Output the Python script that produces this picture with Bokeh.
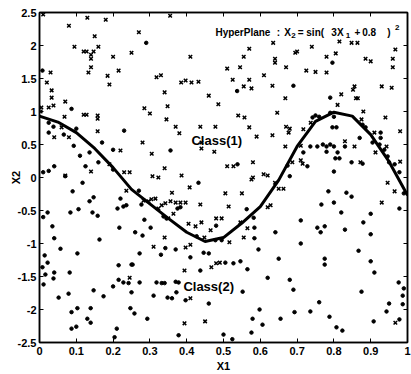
from bokeh.plotting import figure
from bokeh.models import FixedTicker, LinearAxis, Label
from bokeh.embed import file_html
from bokeh.resources import INLINE

# ---------------- data ----------------
curve_x = [0.0, 0.05, 0.1, 0.15, 0.2, 0.25, 0.3, 0.35, 0.4, 0.45, 0.5,
           0.55, 0.6, 0.65, 0.7, 0.75, 0.8, 0.85, 0.9, 0.95, 1.0]
curve_y = [0.93, 0.84, 0.68, 0.44, 0.15, -0.18, -0.40, -0.62, -0.83, -0.97, -0.91,
           -0.69, -0.44, -0.04, 0.47, 0.85, 0.99, 0.93, 0.65, 0.24, -0.27]

class1 = [  # "x" markers
    (0.01, 2.47), (0.13, 2.42), (0.08, 2.30), (0.18, 2.39), (0.15, 2.14), (0.095, 1.98),
    (0.12, 1.91), (0.128, 1.91), (0.147, 1.91), (0.16, 1.98), (0.14, 1.86), (0.14, 1.80),
    (0.20, 1.83), (0.25, 1.89), (0.14, 1.67), (0.133, 1.59), (0.215, 1.62), (0.185, 1.54),
    (0.19, 1.41), (0.03, 1.59), (0.02, 1.44), (0.033, 1.32), (0.033, 1.21), (0.07, 1.15),
    (0.038, 1.09), (0.005, 1.06), (0.025, 1.06), (0.003, 1.0), (0.12, 0.95), (0.128, 0.95),
    (0.158, 0.94), (0.158, 0.89), (0.068, 0.92), (0.06, 0.76), (0.158, 0.70), (0.04, 0.61),
    (0.08, 0.61), (0.22, 0.41), (0.19, 0.2), (0.14, 0.09), (0.23, 0.08), (0.245, 0.08),
    (0.07, 0.03),
    (0.355, 2.45), (0.27, 2.2), (0.41, 1.83), (0.318, 1.52), (0.33, 1.55), (0.385, 1.44),
    (0.397, 1.47), (0.413, 1.44), (0.432, 1.45), (0.34, 1.29), (0.46, 1.24), (0.486, 1.11),
    (0.348, 1.08), (0.285, 1.05), (0.30, 0.97), (0.345, 0.88), (0.37, 0.77), (0.38, 0.67),
    (0.437, 0.77), (0.478, 0.77), (0.44, 0.53), (0.44, 0.44), (0.475, 0.39), (0.28, 0.53),
    (0.305, 0.36), (0.34, 0.14), (0.307, 0.02), (0.323, 0.0), (0.386, 0.03),
    (0.635, 2.04), (0.57, 1.95), (0.555, 1.83), (0.64, 1.8), (0.64, 1.74), (0.695, 1.89),
    (0.70, 1.91), (0.74, 1.98), (0.51, 1.65), (0.545, 1.67), (0.67, 1.67), (0.725, 1.62),
    (0.61, 1.55), (0.525, 1.48), (0.57, 1.48), (0.555, 1.38), (0.576, 1.35), (0.633, 1.39),
    (0.668, 1.2), (0.646, 0.98), (0.54, 0.94), (0.557, 0.91), (0.57, 0.76), (0.59, 0.62),
    (0.633, 0.64), (0.67, 0.77), (0.68, 0.74), (0.677, 0.68), (0.717, 0.73), (0.737, 0.83),
    (0.668, 0.47), (0.71, 0.48), (0.58, 0.23), (0.51, 0.17), (0.527, 0.17), (0.609, 0.05),
    (0.62, 0.03), (0.58, 0.0), (0.687, 0.23), (0.71, 0.26), (0.715, 0.21),
    (0.815, 2.06), (0.848, 2.04), (0.864, 2.04), (0.967, 1.94), (0.78, 1.83), (0.805, 1.88),
    (0.886, 1.8), (0.90, 1.76), (0.96, 1.8), (0.96, 1.67), (0.75, 1.6), (0.78, 1.59),
    (0.856, 1.38), (0.852, 1.33), (0.93, 1.38), (0.957, 1.36), (0.82, 1.26), (0.86, 1.2),
    (0.865, 1.2), (0.81, 1.1), (0.88, 1.0), (0.94, 0.91), (0.98, 0.7), (0.875, 0.88),
    (0.91, 0.68), (0.83, 0.55), (0.856, 0.47), (0.913, 0.38), (0.872, 0.23), (0.943, 0.47),
    (0.98, 0.24),
    (0.236, -0.2), (0.408, -0.15), (0.505, -0.24), (0.36, -0.23), (0.283, -0.35),
    (0.296, -0.36), (0.304, -0.33), (0.315, -0.32), (0.323, -0.47), (0.332, -0.42),
    (0.342, -0.39), (0.356, -0.36), (0.37, -0.38), (0.383, -0.38), (0.397, -0.38),
    (0.437, -0.41), (0.35, -0.62), (0.364, -0.55), (0.405, -0.7), (0.424, -0.74),
    (0.44, -0.68), (0.48, -0.62), (0.495, -0.62), (0.465, -0.8), (0.34, -0.91),
    (0.448, -0.91), (0.31, -1.05), (0.397, -1.06), (0.41, -1.02), (0.394, -1.41),
    (0.467, -1.36), (0.48, -1.3), (0.49, -1.29), (0.245, -1.52), (0.41, -1.83),
    (0.394, -2.21), (0.45, -2.18),
    (0.576, -0.03), (0.64, -0.08), (0.65, -0.17), (0.663, -0.17), (0.55, -0.24),
    (0.514, -0.44), (0.62, -0.45), (0.628, -0.42), (0.546, -0.68), (0.565, -0.77),
    (0.555, -0.91), (0.516, -0.98),
    (0.946, -0.08), (0.965, -0.21), (0.93, -0.38), (0.967, -2.2),
]

class2 = [  # dot markers
    (0.008, 1.62), (0.087, 1.04), (0.29, 2.04), (0.356, 0.41), (0.537, 1.31), (0.69, 1.39),
    (0.796, 1.74), (0.79, 1.21), (0.538, 0.2),
    (0.025, 0.83), (0.038, 0.77), (0.10, 0.74), (0.23, 0.71), (0.025, 0.68), (0.066, 0.65),
    (0.17, 0.53), (0.093, 0.48), (0.20, 0.42), (0.11, 0.33), (0.136, 0.38), (0.16, 0.23),
    (0.125, 0.17), (0.20, 0.12), (0.01, 0.08), (0.025, 0.1), (0.04, 0.17),
    (0.674, 0.18), (0.728, 0.17), (0.68, 0.02), (0.736, 0.47), (0.717, 0.38), (0.75, 0.94),
    (0.742, 0.91), (0.76, 0.92), (0.79, 0.98), (0.80, 0.92), (0.878, 0.8), (0.886, 0.76),
    (0.927, 0.68), (0.796, 0.76), (0.807, 0.76), (0.755, 0.47), (0.77, 0.5), (0.78, 0.47),
    (0.79, 0.5), (0.80, 0.47), (0.83, 0.47), (0.87, 0.6), (0.927, 0.6), (0.905, 0.53),
    (0.81, 0.38), (0.804, 0.29), (0.815, 0.29), (0.848, 0.23), (0.878, 0.21), (0.78, 0.39),
    (0.80, 0.09), (0.95, 0.23), (0.965, 0.2), (0.978, 0.08), (0.924, 0.5), (0.937, 0.42),
    (0.946, 0.32),
    (0.07, 0.02), (0.117, -0.08), (0.09, -0.21), (0.136, -0.36), (0.147, -0.30), (0.22, -0.32),
    (0.212, -0.47), (0.228, -0.44), (0.236, -0.42), (0.022, -0.53), (0.01, -0.6),
    (0.084, -0.53), (0.106, -0.48), (0.144, -0.53), (0.158, -0.58), (0.035, -0.74),
    (0.217, -0.76), (0.04, -0.92), (0.163, -0.94), (0.057, -1.08), (0.103, -1.15),
    (0.014, -1.18), (0.022, -1.29), (0.008, -1.36), (0.215, -1.33), (0.25, -1.32),
    (0.016, -1.47), (0.04, -1.44), (0.038, -1.53), (0.082, -1.44), (0.011, -1.62),
    (0.215, -1.55), (0.228, -1.59), (0.242, -1.6), (0.2, -1.65), (0.147, -1.71),
    (0.25, -1.74), (0.079, -1.76), (0.174, -1.8), (0.052, -1.82), (0.247, -1.98),
    (0.139, -1.98), (0.103, -1.98), (0.087, -2.04), (0.13, -2.14), (0.139, -2.2),
    (0.1, -2.26), (0.087, -2.29), (0.21, -2.29), (0.204, -2.42),
    (0.432, -0.08), (0.27, -0.2), (0.277, -0.41), (0.375, -0.47), (0.383, -0.45),
    (0.337, -0.59), (0.345, -0.62),
    (0.285, -0.64), (0.302, -0.76), (0.48, -0.73), (0.26, -0.83), (0.28, -0.88),
    (0.427, -0.89), (0.478, -0.95), (0.495, -0.95), (0.342, -1.07), (0.37, -1.09),
    (0.272, -1.15), (0.33, -1.17), (0.446, -1.14), (0.46, -1.15), (0.41, -1.21),
    (0.253, -1.32), (0.437, -1.41), (0.272, -1.59), (0.318, -1.59), (0.332, -1.6),
    (0.34, -1.6), (0.37, -1.58), (0.378, -1.59), (0.31, -1.79), (0.348, -1.82),
    (0.36, -1.83), (0.372, -1.74), (0.397, -1.86), (0.258, -2.06), (0.46, -1.91),
    (0.293, -2.14), (0.378, -2.39),
    (0.563, -0.48), (0.582, -0.61), (0.71, -0.65), (0.641, -0.83), (0.584, -0.76),
    (0.584, -0.92), (0.71, -1.0), (0.595, -1.09), (0.65, -1.23), (0.505, -1.29),
    (0.527, -1.3), (0.546, -1.27), (0.565, -1.39), (0.62, -1.52), (0.68, -1.55),
    (0.69, -1.70), (0.552, -1.73), (0.598, -2.0), (0.693, -2.04), (0.736, -2.03),
    (0.579, -2.14), (0.655, -2.14), (0.606, -2.23), (0.576, -2.35), (0.5, -2.38),
    (0.524, -2.45),
    (0.99, -0.24), (0.785, -0.21), (0.834, -0.23), (0.848, -0.29), (0.766, -0.41),
    (0.80, -0.38), (0.82, -0.53), (0.9, -0.55), (0.978, -0.47), (0.88, -0.68),
    (0.755, -0.76), (0.764, -0.83), (0.775, -0.74), (0.83, -0.79), (0.9, -0.86),
    (0.867, -1.11), (0.775, -1.23), (0.775, -1.32), (0.9, -1.27), (0.91, -1.44),
    (0.976, -1.59), (0.99, -1.68), (0.875, -1.73), (0.987, -1.79), (0.76, -1.89),
    (0.95, -1.91), (0.987, -1.92), (0.788, -2.11), (0.943, -2.03), (0.908, -2.18),
    (0.978, -2.15), (0.807, -2.27), (0.823, -2.32),
]

c1_x = [p_[0] for p_ in class1]
c1_y = [p_[1] for p_ in class1]
c2_x = [p_[0] for p_ in class2]
c2_y = [p_[1] for p_ in class2]

x_ticks = [0, 0.1, 0.2, 0.3, 0.4, 0.5, 0.6, 0.7, 0.8, 0.9, 1]
x_tick_labels = ["0", "0.1", "0.2", "0.3", "0.4", "0.5", "0.6", "0.7", "0.8", "0.9", "1"]
y_ticks = [-2.5, -2, -1.5, -1, -0.5, 0, 0.5, 1, 1.5, 2, 2.5]
y_tick_labels = ["-2.5", "-2", "-1.5", "-1", "-0.5", "0", "0.5", "1", "1.5", "2", "2.5"]

FONT = "Liberation Sans"

p = figure(width=411, height=374, x_range=(0, 1), y_range=(-2.5, 2.5),
           output_backend="svg", toolbar_location=None,
           min_border_left=39, min_border_right=4, min_border_top=12, min_border_bottom=32)
p.grid.visible = False
p.background_fill_color = "white"
p.border_fill_color = "white"
p.outline_line_color = "black"
p.outline_line_width = 1.5


def style_axis(ax, ticks, labels, show_labels=True):
    ax.ticker = FixedTicker(ticks=ticks)
    ax.axis_line_color = "black"
    ax.axis_line_width = 1.5
    ax.major_tick_in = 4
    ax.major_tick_out = 0
    ax.major_tick_line_color = "black"
    ax.major_tick_line_width = 1
    ax.minor_tick_line_color = None
    ax.major_label_text_font = FONT
    ax.major_label_text_font_style = "bold"
    ax.major_label_text_color = "black"
    ax.axis_label_text_font = FONT
    ax.axis_label_text_font_style = "bold"
    ax.axis_label_text_color = "black"
    if show_labels:
        ax.major_label_overrides = {t: l for t, l in zip(ticks, labels)}
        ax.major_label_text_font_size = "11px"
    else:
        ax.major_label_overrides = {t: "" for t in ticks}
        ax.major_label_text_font_size = "1px"
        ax.major_label_standoff = 0


xa = p.xaxis[0]
style_axis(xa, x_ticks, x_tick_labels)
xa.axis_label = "X1"
xa.axis_label_text_font_size = "11px"
xa.major_label_standoff = 4
xa.axis_label_standoff = 2

ya = p.yaxis[0]
style_axis(ya, y_ticks, y_tick_labels)
ya.axis_label = "X2"
ya.axis_label_text_font_size = "11px"
ya.major_label_standoff = 3
ya.axis_label_standoff = -7

top = LinearAxis()
style_axis(top, x_ticks, x_tick_labels, show_labels=False)
p.add_layout(top, "above")
right = LinearAxis()
style_axis(right, y_ticks, y_tick_labels, show_labels=False)
p.add_layout(right, "right")

# marks
p.line(curve_x, curve_y, line_color="black", line_width=3)
p.scatter(c1_x, c1_y, marker="x", size=5, line_color="black", line_width=1.5)
p.scatter(c2_x, c2_y, marker="circle", size=3.5, fill_color="black", line_color="black")

# annotations
def lab(x, y, t, size="10px"):
    p.add_layout(Label(x=x, y=y, text=t, text_font=FONT, text_font_style="bold",
                       text_font_size=size, text_color="black",
                       text_baseline="alphabetic", text_align="left"))

lab(0.478, 2.20, "HyperPlane")
lab(0.645, 2.20, ":")
lab(0.665, 2.20, "X")
lab(0.684, 2.15, "2", "8px")
lab(0.702, 2.20, "=")
lab(0.725, 2.20, "sin(")
lab(0.793, 2.20, "3X")
lab(0.832, 2.15, "1", "8px")
lab(0.856, 2.20, "+")
lab(0.877, 2.20, "0.8")
lab(0.945, 2.20, ")")
lab(0.966, 2.27, "2", "8px")

lab(0.413, 0.56, "Class(1)", "13px")
lab(0.391, -1.65, "Class(2)", "13px")

open("out.html", "w").write(file_html(p, INLINE))
